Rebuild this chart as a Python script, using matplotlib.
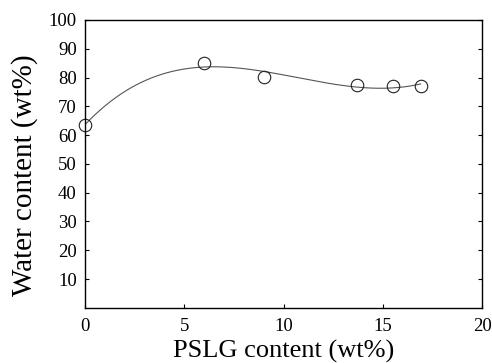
import matplotlib
matplotlib.use("Agg")
import matplotlib.pyplot as plt
import numpy as np

pslg = [0, 6, 9, 13.7, 15.5, 16.9]
water = [63.5, 85, 80.2, 77.4, 77.2, 77]
xticks = [0, 5, 10, 15, 20]
yticks = [10, 20, 30, 40, 50, 60, 70, 80, 90, 100]

plt.rcParams["font.family"] = ["Liberation Serif", "DejaVu Serif"]

fig = plt.figure(figsize=(4.92, 3.63), dpi=100)
ax = fig.add_axes([0.173, 0.152, 0.807, 0.793])

# smooth guide line through the measurements
coef = np.polyfit(pslg, water, 3)
xs = np.linspace(pslg[0], pslg[-1], 200)
ax.plot(xs, np.polyval(coef, xs), color="#555555", lw=0.8)
ax.plot(pslg, water, "o", ms=9, mfc="none", mec="#222222", mew=0.8,
        clip_on=False)

ax.set_xlim(0, 20)
ax.set_ylim(0, 100)
ax.set_xticks(xticks)
ax.set_yticks(yticks)
ax.tick_params(direction="in", length=3, labelsize=13.5, right=True)
ax.tick_params(axis="x", pad=7)
ax.tick_params(axis="y", pad=6)
for s in ax.spines.values():
    s.set_linewidth(1.0)

ax.set_xlabel("PSLG content (wt%)", fontsize=19, labelpad=4)
ax.set_ylabel("Water content (wt%)", fontsize=21, labelpad=8)
ax.yaxis.label.set_y(0.46)

fig.savefig("out.png", dpi=100)
